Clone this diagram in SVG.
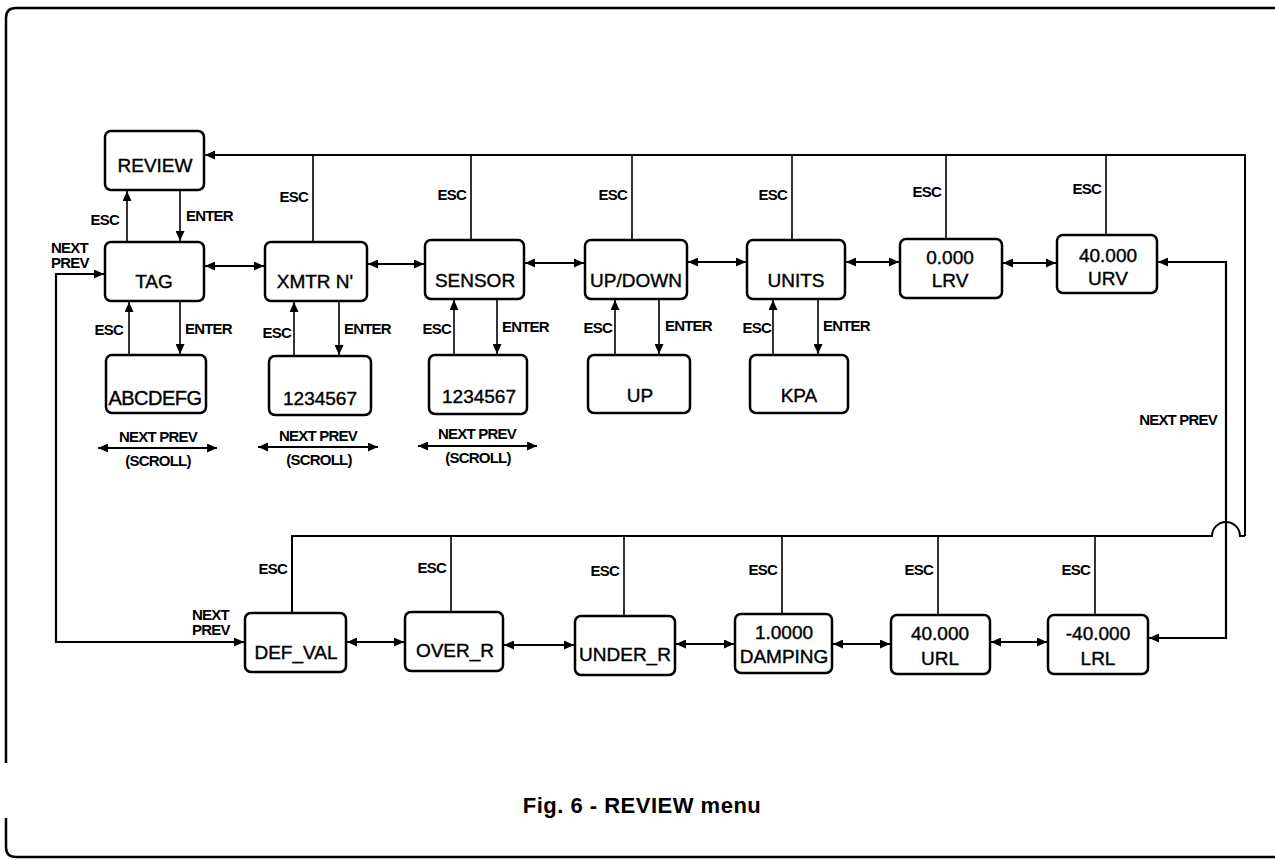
<svg xmlns="http://www.w3.org/2000/svg" width="1275" height="860" viewBox="0 0 1275 860">
<defs>
<marker id="ah" markerUnits="userSpaceOnUse" markerWidth="11" markerHeight="9" refX="10" refY="4.5" orient="auto-start-reverse">
<path d="M0,0 L10,4.5 L0,9 z" fill="#000"/>
</marker>
</defs>
<style>
.bg{fill:#fff}
.frame{fill:none;stroke:#000;stroke-width:2.5}
.box{fill:#fff;stroke:#000;stroke-width:2.5}
.nt{font-family:"Liberation Sans",Arial,sans-serif;font-size:19px;text-anchor:middle;fill:#000;stroke:#000;stroke-width:0.4}
.lb{font-family:"Liberation Sans",Arial,sans-serif;font-size:15px;font-weight:bold;letter-spacing:-0.8px;fill:#000}
.le{text-anchor:end}
.lm{text-anchor:middle}
.ln{fill:none;stroke:#000;stroke-width:1.6}
.bi{fill:none;stroke:#000;stroke-width:2.2;marker-start:url(#ah);marker-end:url(#ah)}
.one{fill:none;stroke:#000;stroke-width:1.6;marker-end:url(#ah)}
.bus{fill:none;stroke:#000;stroke-width:2}
.cap{font-family:"Liberation Sans",Arial,sans-serif;font-size:22px;font-weight:bold;letter-spacing:0.5px;text-anchor:middle;fill:#000}
</style>
<rect class="bg" x="0" y="0" width="1275" height="860"/>
<g id="frame">
<path class="frame" d="M1275,8 H16 Q6,8 6,18 V763"/>
<path class="frame" d="M6,818 V847 Q6,857 16,857 H1275"/>
</g>
<g id="connectors">
<!-- top bus -->
<path class="bus" d="M1245,536 V155 H214" />
<path class="one" d="M1000,155 H205" stroke-width="2"/>
<!-- bottom bus with hop -->
<path class="bus" d="M292,613 V536 H1212 A14,14 0 0 1 1240,536 H1245"/>
<!-- top ESC stubs -->
<path class="ln" d="M313,155 V242 M471,155 V240 M632,155 V240 M792,155 V240 M946,155 V239 M1106,155 V235"/>
<!-- bottom ESC stubs -->
<path class="ln" d="M451,536 V612 M624,536 V616 M782,536 V614 M938,536 V615 M1095,536 V615"/>
<!-- REVIEW <-> TAG -->
<path class="one" d="M127,242 V191"/>
<path class="one" d="M180,190 V241"/>
<!-- sub arrows -->
<path class="one" d="M129,355 V302"/>
<path class="one" d="M180,301 V354"/>
<path class="one" d="M294,356 V302"/>
<path class="one" d="M339,301 V355"/>
<path class="one" d="M454,355 V300"/>
<path class="one" d="M497,299 V354"/>
<path class="one" d="M615,355 V300"/>
<path class="one" d="M659,299 V354"/>
<path class="one" d="M773,355 V300"/>
<path class="one" d="M818,299 V354"/>
<!-- row1 horizontals -->
<path class="bi" d="M205,266 H264"/>
<path class="bi" d="M368,264 H424"/>
<path class="bi" d="M525,263 H584"/>
<path class="bi" d="M688,262 H746"/>
<path class="bi" d="M846,262 H899"/>
<path class="bi" d="M1003,263 H1056"/>
<!-- row2 horizontals -->
<path class="bi" d="M347,642 H404"/>
<path class="bi" d="M504,645 H574"/>
<path class="bi" d="M676,644 H734"/>
<path class="bi" d="M833,644 H890"/>
<path class="bi" d="M991,642 H1047"/>
<!-- URV / LRL wrap -->
<path class="bi" d="M1158,262 H1226 V638 H1149"/>
<!-- left wrap TAG / DEF_VAL -->
<path class="bi" d="M104,274 H56 V642 H244"/>
<!-- scroll arrows -->
<path class="bi" d="M98,448 H217"/>
<path class="bi" d="M258,447 H378"/>
<path class="bi" d="M418,446 H537"/>
</g>
<g id="labels">
<text class="lb le" x="119" y="225">ESC</text>
<text class="lb" x="186" y="221">ENTER</text>
<text class="lb" x="51" y="253">NEXT</text>
<text class="lb" x="51" y="268">PREV</text>
<text class="lb le" x="308" y="202">ESC</text>
<text class="lb le" x="466" y="200">ESC</text>
<text class="lb le" x="627" y="200">ESC</text>
<text class="lb le" x="787" y="200">ESC</text>
<text class="lb le" x="941" y="197">ESC</text>
<text class="lb le" x="1101" y="194">ESC</text>
<text class="lb le" x="123" y="335">ESC</text>
<text class="lb" x="185" y="334">ENTER</text>
<text class="lb le" x="291" y="338">ESC</text>
<text class="lb" x="344" y="334">ENTER</text>
<text class="lb le" x="451" y="334">ESC</text>
<text class="lb" x="502" y="332">ENTER</text>
<text class="lb le" x="612" y="333">ESC</text>
<text class="lb" x="665" y="331">ENTER</text>
<text class="lb le" x="771" y="333">ESC</text>
<text class="lb" x="823" y="331">ENTER</text>
<text class="lb lm" x="158" y="442">NEXT PREV</text>
<text class="lb lm" x="158" y="466">(SCROLL)</text>
<text class="lb lm" x="318" y="441">NEXT PREV</text>
<text class="lb lm" x="319" y="465">(SCROLL)</text>
<text class="lb lm" x="477" y="439">NEXT PREV</text>
<text class="lb lm" x="478" y="463">(SCROLL)</text>
<text class="lb le" x="1217" y="425">NEXT PREV</text>
<text class="lb le" x="287" y="574">ESC</text>
<text class="lb le" x="446" y="573">ESC</text>
<text class="lb le" x="619" y="576">ESC</text>
<text class="lb le" x="777" y="575">ESC</text>
<text class="lb le" x="933" y="575">ESC</text>
<text class="lb le" x="1090" y="575">ESC</text>
<text class="lb" x="192" y="620">NEXT</text>
<text class="lb" x="192" y="635">PREV</text>
</g>
<g id="n-review"><rect class="box" x="105" y="131" width="99" height="59" rx="6"/><text class="nt" x="155" y="172">REVIEW</text></g>
<g id="n-tag"><rect class="box" x="105" y="242" width="99" height="59" rx="6"/><text class="nt" x="154" y="288">TAG</text></g>
<g id="n-xmtr"><rect class="box" x="265" y="242" width="102" height="59" rx="6"/><text class="nt" x="315" y="288">XMTR N'</text></g>
<g id="n-sensor"><rect class="box" x="425" y="240" width="99" height="59" rx="6"/><text class="nt" x="475" y="287">SENSOR</text></g>
<g id="n-updown"><rect class="box" x="585" y="240" width="102" height="59" rx="6"/><text class="nt" x="636" y="287">UP/DOWN</text></g>
<g id="n-units"><rect class="box" x="747" y="240" width="98" height="59" rx="6"/><text class="nt" x="796" y="287">UNITS</text></g>
<g id="n-lrv"><rect class="box" x="900" y="239" width="102" height="59" rx="6"/><text class="nt" x="950" y="264">0.000</text><text class="nt" x="950" y="287">LRV</text></g>
<g id="n-urv"><rect class="box" x="1057" y="235" width="100" height="58" rx="6"/><text class="nt" x="1108" y="262">40.000</text><text class="nt" x="1108" y="285">URV</text></g>
<g id="n-abc"><rect class="box" x="106" y="355" width="100" height="58" rx="6"/><text class="nt" x="155" y="405" style="font-size:20px;letter-spacing:-0.5px">ABCDEFG</text></g>
<g id="n-xmtr-val"><rect class="box" x="269" y="356" width="102" height="59" rx="6"/><text class="nt" x="320" y="405">1234567</text></g>
<g id="n-sensor-val"><rect class="box" x="429" y="355" width="98" height="59" rx="6"/><text class="nt" x="479" y="403">1234567</text></g>
<g id="n-up"><rect class="box" x="588" y="355" width="102" height="58" rx="6"/><text class="nt" x="640" y="402">UP</text></g>
<g id="n-kpa"><rect class="box" x="750" y="355" width="98" height="58" rx="6"/><text class="nt" x="799" y="402">KPA</text></g>
<g id="n-defval"><rect class="box" x="245" y="613" width="101" height="59" rx="6"/><text class="nt" x="296" y="659">DEF_VAL</text></g>
<g id="n-overr"><rect class="box" x="405" y="612" width="98" height="59" rx="6"/><text class="nt" x="455" y="657">OVER_R</text></g>
<g id="n-underr"><rect class="box" x="575" y="616" width="100" height="59" rx="6"/><text class="nt" x="625" y="661">UNDER_R</text></g>
<g id="n-damping"><rect class="box" x="735" y="614" width="97" height="59" rx="6"/><text class="nt" x="784" y="639">1.0000</text><text class="nt" x="784" y="663">DAMPING</text></g>
<g id="n-url"><rect class="box" x="891" y="615" width="99" height="59" rx="6"/><text class="nt" x="940" y="640">40.000</text><text class="nt" x="940" y="665">URL</text></g>
<g id="n-lrl"><rect class="box" x="1048" y="615" width="100" height="59" rx="6"/><text class="nt" x="1098" y="640">-40.000</text><text class="nt" x="1098" y="665">LRL</text></g>
<text class="cap" x="642" y="813">Fig. 6 - REVIEW menu</text>
</svg>
